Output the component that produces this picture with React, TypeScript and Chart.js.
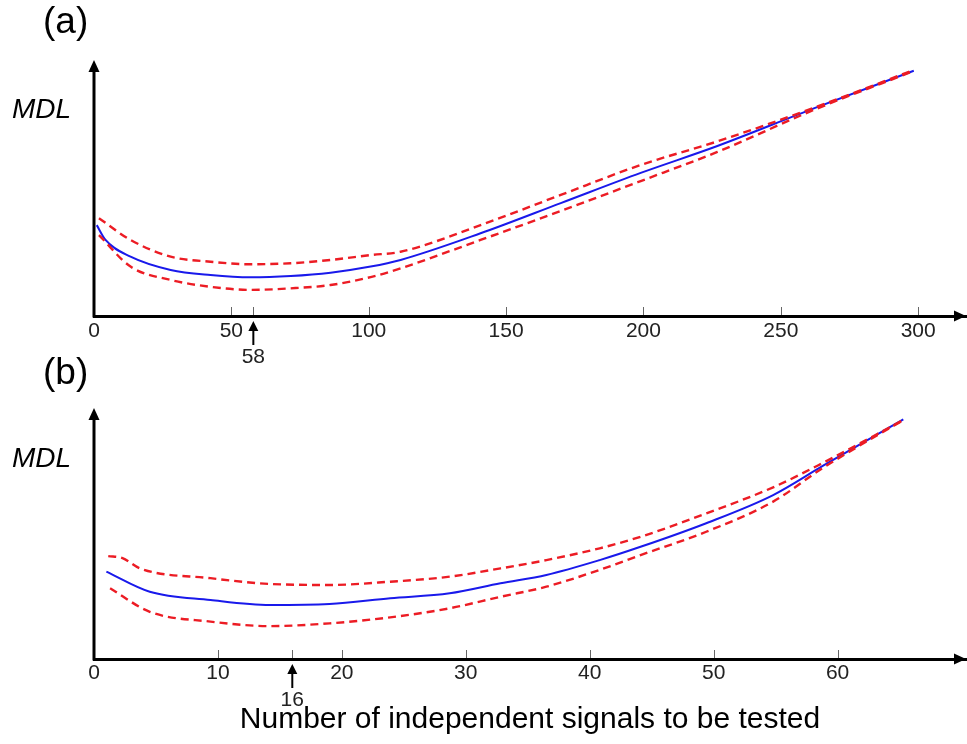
import React, { useEffect, useRef } from 'react';
import { Chart, registerables } from 'chart.js';

Chart.register(...registerables);

const FONT = '"Liberation Sans", Arial, Helvetica, sans-serif';
const BLUE = 'rgb(25, 25, 235)';
const RED = 'rgb(236, 28, 36)';
const TICK_COLOR = '#222';

// ---------- Panel (a) ----------
const aTicks = [0, 50, 58, 100, 150, 200, 250, 300];
const aMarked = 58;
const aMeanX = [1, 4.2, 13.3, 27.9, 42.4, 57, 71.6, 86.1, 100.7, 111.6, 140.7, 169.9, 199, 226.9, 262, 298.4];
const aMeanY = [35.5, 29.7, 23.2, 18.0, 16.0, 15.1, 15.6, 16.9, 19.3, 21.9, 32.3, 44.1, 55.9, 66.4, 81.1, 95.8];
const aUpperX = [1.8, 13.3, 27.9, 42.4, 57, 71.6, 86.1, 100.7, 111.6, 140.7, 169.9, 199, 226.9, 262, 298.4];
const aUpperY = [38.2, 29.7, 23.2, 21.2, 20.2, 20.6, 21.9, 23.8, 25.1, 35.5, 47.3, 59.0, 68.2, 81.3, 96.1];
const aLowerX = [1.8, 13.3, 27.9, 42.4, 57, 71.6, 86.1, 100.7, 111.6, 140.7, 169.9, 199, 226.9, 262, 298.4];
const aLowerY = [31.6, 19.3, 14.1, 11.4, 10.2, 10.8, 12.1, 15.2, 18.6, 29.7, 41.0, 52.7, 64.1, 80.5, 95.7];

// ---------- Panel (b) ----------
const bTicks = [0, 10, 16, 20, 30, 40, 50, 60];
const bMarked = 16;
const bMeanX = [1, 4.5, 9.4, 14.2, 19.0, 23.9, 28.7, 32.8, 36.5, 40.8, 44.1, 49.4, 54.8, 58.8, 65.3];
const bMeanY = [34.8, 26.8, 23.5, 21.5, 21.9, 24.2, 26.2, 30.2, 33.5, 39.4, 44.7, 54.1, 65.3, 76.9, 95.5];
const bUpperX = [1.15, 2.3, 3.7, 9.4, 14.2, 19.0, 23.9, 28.7, 32.8, 36.5, 40.8, 44.1, 49.4, 54.8, 58.8, 65.3];
const bUpperY = [41.0, 40.2, 36.1, 32.2, 29.9, 29.5, 30.8, 32.8, 36.1, 39.4, 44.1, 48.7, 58.0, 68.4, 78.1, 95.2];
const bLowerX = [1.3, 4.5, 9.4, 14.2, 19.0, 23.9, 28.7, 32.8, 36.5, 40.8, 44.1, 49.4, 54.8, 58.8, 65.3];
const bLowerY = [28.2, 18.8, 14.9, 13.1, 14.2, 16.6, 20.2, 24.8, 28.8, 35.5, 41.4, 50.7, 62.7, 76.1, 95.2];

const xTitle = 'Number of independent signals to be tested';

type PanelCfg = {
  panel: string;
  ticks: number[];
  marked: number;
  xMax: number;
  meanX: number[]; meanY: number[];
  upX: number[]; upY: number[];
  loX: number[]; loY: number[];
  height: number;
  padTop: number;
  axisY: number;
  panelY: number;
  mdlY: number;
  labelPad: number;
  title?: string;
};

const pts = (xs: number[], ys: number[]) => xs.map((x, i) => ({ x, y: ys[i] }));

function decor(cfg: PanelCfg) {
  return {
    id: 'decor',
    afterDraw(chart: any) {
      const { ctx } = chart;
      const { left, right, top, bottom } = chart.chartArea;
      const xs = chart.scales.x;
      ctx.save();
      // inward tick marks
      ctx.strokeStyle = '#666';
      ctx.lineWidth = 1;
      cfg.ticks.forEach((v) => {
        if (v === 0) return;
        const px = Math.round(xs.getPixelForValue(v)) + 0.5;
        ctx.beginPath();
        ctx.moveTo(px, bottom - 1);
        ctx.lineTo(px, bottom - 9);
        ctx.stroke();
      });
      // y axis with arrow
      ctx.strokeStyle = '#000';
      ctx.fillStyle = '#000';
      ctx.lineWidth = 3;
      ctx.beginPath();
      ctx.moveTo(left, bottom + 1.5);
      ctx.lineTo(left, top + 8);
      ctx.stroke();
      ctx.beginPath();
      ctx.moveTo(left, top);
      ctx.lineTo(left - 5.5, top + 12);
      ctx.lineTo(left + 5.5, top + 12);
      ctx.closePath();
      ctx.fill();
      // x arrow head
      ctx.beginPath();
      ctx.moveTo(right, bottom);
      ctx.lineTo(right - 12, bottom - 5.5);
      ctx.lineTo(right - 12, bottom + 5.5);
      ctx.closePath();
      ctx.fill();
      // marked optimum
      const mx = xs.getPixelForValue(cfg.marked);
      ctx.lineWidth = 2;
      ctx.beginPath();
      ctx.moveTo(mx, bottom + 12);
      ctx.lineTo(mx, bottom + 29);
      ctx.stroke();
      ctx.beginPath();
      ctx.moveTo(mx, bottom + 5);
      ctx.lineTo(mx - 5, bottom + 15);
      ctx.lineTo(mx + 5, bottom + 15);
      ctx.closePath();
      ctx.fill();
      ctx.font = `21px ${FONT}`;
      ctx.textAlign = 'center';
      ctx.textBaseline = 'middle';
      ctx.fillStyle = TICK_COLOR;
      ctx.fillText(String(cfg.marked), mx, bottom + 41);
      // panel label + MDL
      ctx.fillStyle = '#000';
      ctx.textAlign = 'left';
      ctx.font = `37px ${FONT}`;
      ctx.fillText(cfg.panel, 43, cfg.panelY);
      ctx.textBaseline = 'alphabetic';
      ctx.font = `italic 28px ${FONT}`;
      ctx.fillText('MDL', 12, cfg.mdlY);
      ctx.restore();
    },
  };
}

function Panel({ cfg, top }: { cfg: PanelCfg; top: number }) {
  const ref = useRef<HTMLCanvasElement | null>(null);
  useEffect(() => {
    if (!ref.current) return;
    const scaleHeight = cfg.height - cfg.axisY;
    const chart = new Chart(ref.current, {
      type: 'line',
      data: {
        datasets: [
          {
            data: pts(cfg.upX, cfg.upY),
            borderColor: RED,
            borderWidth: 2.4,
            borderDash: [8, 5],
            cubicInterpolationMode: 'monotone',
            pointRadius: 0,
            fill: false,
          },
          {
            data: pts(cfg.loX, cfg.loY),
            borderColor: RED,
            borderWidth: 2.4,
            borderDash: [8, 5],
            cubicInterpolationMode: 'monotone',
            pointRadius: 0,
            fill: false,
          },
          {
            data: pts(cfg.meanX, cfg.meanY),
            borderColor: BLUE,
            borderWidth: 2,
            cubicInterpolationMode: 'monotone',
            pointRadius: 0,
            fill: false,
          },
        ],
      },
      options: {
        animation: false,
        responsive: false,
        maintainAspectRatio: false,
        layout: { padding: { left: 94, right: 1, top: cfg.padTop, bottom: 0 } },
        plugins: {
          legend: { display: false },
          tooltip: { enabled: false },
          title: { display: false },
        },
        events: [],
        scales: {
          x: {
            type: 'linear',
            min: 0,
            max: cfg.xMax,
            grid: { display: true, drawOnChartArea: false, drawTicks: false },
            border: { display: true, color: '#000', width: 3 },
            ticks: {
              autoSkip: false,
              maxRotation: 0,
              padding: cfg.labelPad,
              color: TICK_COLOR,
              font: { family: FONT, size: 21 },
              callback: (v: any) => (v === cfg.marked ? '' : String(v)),
            },
            title: cfg.title
              ? {
                  display: true,
                  text: cfg.title,
                  color: '#000',
                  font: { family: FONT, size: 30 },
                  padding: { top: 0, bottom: 6 },
                }
              : { display: false },
            afterBuildTicks: (s: any) => {
              s.ticks = cfg.ticks.map((v) => ({ value: v }));
            },
            afterFit: (s: any) => {
              s.height = scaleHeight;
            },
          },
          y: { display: false, min: 0, max: 100 },
        },
      },
      plugins: [decor(cfg)],
    } as any);
    return () => chart.destroy();
  }, []);
  return (
    <canvas
      ref={ref}
      width={967}
      height={cfg.height}
      style={{ position: 'absolute', left: 0, top, width: 967, height: cfg.height }}
    />
  );
}

const cfgA: PanelCfg = {
  panel: '(a)',
  ticks: aTicks,
  marked: aMarked,
  xMax: 317.4,
  meanX: aMeanX, meanY: aMeanY,
  upX: aUpperX, upY: aUpperY,
  loX: aLowerX, loY: aLowerY,
  height: 372,
  padTop: 60,
  axisY: 316,
  panelY: 23,
  mdlY: 118,
  labelPad: 3,
};

const cfgB: PanelCfg = {
  panel: '(b)',
  ticks: bTicks,
  marked: bMarked,
  xMax: 70.36,
  meanX: bMeanX, meanY: bMeanY,
  upX: bUpperX, upY: bUpperY,
  loX: bLowerX, loY: bLowerY,
  height: 400,
  padTop: 64,
  axisY: 315,
  panelY: 30,
  mdlY: 123,
  labelPad: 2,
  title: xTitle,
};

export default function App() {
  return (
    <div
      style={{
        position: 'absolute',
        left: 0,
        top: 0,
        width: 967,
        height: 744,
        background: '#fff',
        overflow: 'hidden',
      }}
    >
      <Panel cfg={cfgA} top={0} />
      <Panel cfg={cfgB} top={344} />
    </div>
  );
}
